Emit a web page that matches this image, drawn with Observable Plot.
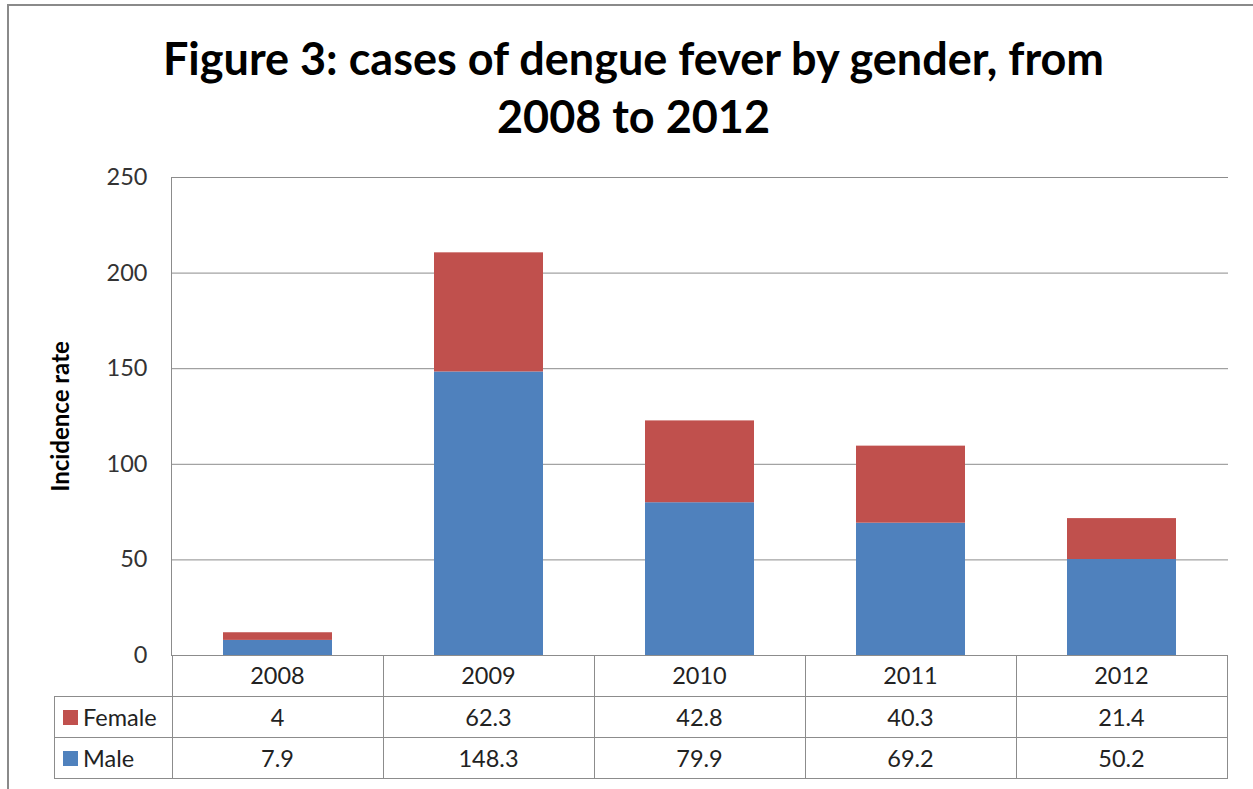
<!DOCTYPE html>
<html><head><meta charset="utf-8">
<script src="https://cdn.jsdelivr.net/npm/d3@7"></script>
<script src="https://cdn.jsdelivr.net/npm/@observablehq/plot@0.6"></script>
<style>
body{margin:0;background:#fff;font-family:Lato,"Open Sans",sans-serif;}
#wrap{position:relative;width:1253px;height:789px;overflow:hidden;background:#fff;}
#border{position:absolute;left:7px;top:4px;width:1300px;height:900px;border-top:2px solid #8a8a8a;border-left:2px solid #8a8a8a;}
#title{position:absolute;left:14px;width:1239px;top:29px;text-align:center;font-weight:bold;font-size:45px;line-height:58px;color:#000;}
#chart{position:absolute;left:0;top:0;}
.tl{position:absolute;background:#8c8c8c;}
.tt{position:absolute;font-size:23.5px;color:#222;text-align:center;height:41px;line-height:41px;white-space:nowrap;}
.sw{position:absolute;width:15px;height:15px;}
</style>
</head><body>
<div id="wrap">
  <div id="border"></div>
  <div id="chart"></div>
  <div id="title">Figure 3: cases of dengue fever by gender, from<br>2008 to 2012</div>
  <div id="table"></div>
</div>
<script>
const years = ["2008", "2009", "2010", "2011", "2012"];
const female = [4, 62.3, 42.8, 40.3, 21.4];
const male = [7.9, 148.3, 79.9, 69.2, 50.2];
const genders = ["Female", "Male"];
const genderColors = ["#C0504D", "#4F81BD"];
const yTicks = [0, 50, 100, 150, 200, 250];
const yLabel = "Incidence rate";

const rows = [];
years.forEach((y, i) => rows.push({year: y, gender: "Male", value: male[i]}));
years.forEach((y, i) => rows.push({year: y, gender: "Female", value: female[i]}));

const W = 1253, H = 789;
const plot = Plot.plot({
  width: W, height: H,
  marginTop: 177, marginBottom: 134, marginLeft: 171, marginRight: 25,
  style: {fontFamily: "Lato, 'Open Sans', sans-serif", background: "transparent", overflow: "visible"},
  x: {domain: years, paddingInner: 0.484, paddingOuter: 0.242, axis: null},
  y: {domain: [0, 250], axis: null},
  color: {domain: genders, range: genderColors},
  marks: [
    Plot.ruleY(yTicks, {stroke: "#8c8c8c", strokeWidth: 1}),
    Plot.barY(rows, {x: "year", y: "value", fill: "gender", order: null}),
    Plot.frame({anchor: "left", stroke: "#8c8c8c", strokeWidth: 1}),
    Plot.axisY({ticks: yTicks, tickSize: 0, tickPadding: 24, fontSize: 23.5, fill: "#333", label: null}),
    Plot.text([yLabel], {frameAnchor: "left", textAnchor: "middle", rotate: -90, dx: -110, fontWeight: "bold", fontSize: 24, fill: "#000"})
  ]
});
document.getElementById("chart").appendChild(plot);

// data table below the chart, columns aligned with the x band scale
const xs = plot.scale("x");
const step = xs.step, bw = xs.bandwidth;
const colLeft = d => xs.apply(d) - (step - bw) / 2;
const ys = plot.scale("y");
const y0 = ys.apply(0);
const rowEdges = [y0, y0 + 41, y0 + 82, y0 + 123];
const labelLeft = 54;
const tableLeft = colLeft(years[0]);
const tableRight = colLeft(years[years.length - 1]) + step;
const tbl = document.getElementById("table");
function line(x, y, w, h) {
  const d = document.createElement("div");
  d.className = "tl";
  d.style.left = x + "px"; d.style.top = y + "px";
  d.style.width = w + "px"; d.style.height = h + "px";
  tbl.appendChild(d);
}
function text(s, x, y, w, align) {
  const d = document.createElement("div");
  d.className = "tt";
  d.textContent = s;
  d.style.left = x + "px"; d.style.top = y + "px"; d.style.width = w + "px";
  if (align) d.style.textAlign = align;
  tbl.appendChild(d);
}
// horizontal lines
line(tableLeft, Math.round(rowEdges[0]), tableRight - tableLeft, 1);
for (let k = 1; k < 4; k++) line(labelLeft, Math.round(rowEdges[k]), tableRight - labelLeft, 1);
// vertical lines
line(labelLeft, Math.round(rowEdges[1]), 1, rowEdges[3] - rowEdges[1] + 1);
years.forEach(y => line(Math.round(colLeft(y)), Math.round(rowEdges[0]), 1, rowEdges[3] - rowEdges[0] + 1));
line(Math.round(tableRight), Math.round(rowEdges[0]), 1, rowEdges[3] - rowEdges[0] + 1);
// header and values
years.forEach((y, i) => {
  const xl = colLeft(y);
  text(y, xl, rowEdges[0], step);
  text(String(female[i]), xl, rowEdges[1] + 1, step);
  text(String(male[i]), xl, rowEdges[2] + 1, step);
});
// row labels with swatches
genders.forEach((g, k) => {
  const top = rowEdges[k + 1];
  const sw = document.createElement("div");
  sw.className = "sw";
  sw.style.left = "63px"; sw.style.top = (top + 14) + "px";
  sw.style.background = genderColors[k];
  tbl.appendChild(sw);
  text(g, 83, top + 1, 90, "left");
});
</script>
</body></html>
